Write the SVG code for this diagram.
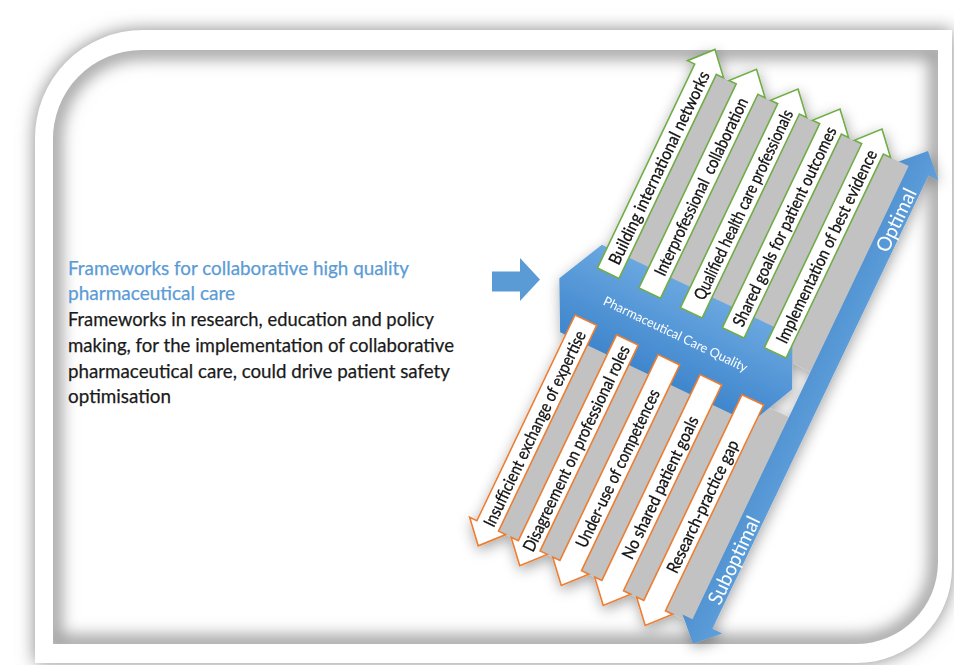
<svg xmlns="http://www.w3.org/2000/svg" width="954" height="665" viewBox="0 0 954 665">
<defs>
  <style>
    .up{fill:#ffffff;stroke:#70ad47;stroke-width:1.6}
    .dn{fill:#ffffff;stroke:#ed7d31;stroke-width:1.6}
    .bar{fill:#c2c2c2}
    .lbl{font-family:Lato,'Open Sans','Liberation Sans',sans-serif;font-size:17px;fill:#111111;stroke:#111111;stroke-width:0.3;text-anchor:middle;dominant-baseline:central}
    .axis{font-family:Lato,'Open Sans','Liberation Sans',sans-serif;font-size:20px;fill:#ffffff;text-anchor:middle;dominant-baseline:central}
    .band{font-family:Lato,'Open Sans','Liberation Sans',sans-serif;font-size:13px;fill:#ffffff;text-anchor:middle;dominant-baseline:central}
    .para{font-family:Lato,'Open Sans','Liberation Sans',sans-serif;font-size:20px;fill:#1a1a1a;stroke:#1a1a1a;stroke-width:0.25}
    .ttl{fill:#5b9bd5;stroke:#5b9bd5}
  </style>
  <filter id="blur9" x="-10%" y="-10%" width="120%" height="120%"><feGaussianBlur stdDeviation="9"/></filter>
  <filter id="blur8" x="-10%" y="-10%" width="120%" height="120%"><feGaussianBlur stdDeviation="8"/></filter>
  <filter id="dshadow" x="-20%" y="-20%" width="140%" height="140%"><feDropShadow dx="1" dy="4" stdDeviation="7" flood-color="#000000" flood-opacity="0.35"/></filter>
  <clipPath id="panelClip"><path d="M53,142 A89,89 0 0 1 142,50 H938 V562 A82,82 0 0 1 856,644 H53 Z"/></clipPath>
  <linearGradient id="bandGrad" x1="0" y1="0" x2="0" y2="1">
    <stop offset="0" stop-color="#6aa7e0"/>
    <stop offset="1" stop-color="#3f86cd"/>
  </linearGradient>
  <linearGradient id="axisGrad" x1="0" y1="0" x2="1" y2="0">
    <stop offset="0" stop-color="#4f90d0"/>
    <stop offset="1" stop-color="#5fa0db"/>
  </linearGradient>
</defs>

<rect x="0" y="0" width="954" height="665" fill="#ffffff"/>

<g id="frame">
  <path d="M35,140 A108,108 0 0 1 143,30 H952 V568 A95,95 0 0 1 857,663 H35 Z" fill="#888888" filter="url(#blur9)"/>
  <path d="M35,140 A108,108 0 0 1 143,30 H952 V568 A95,95 0 0 1 857,663 H35 Z" fill="#ffffff"/>
  <path d="M53,142 A89,89 0 0 1 142,50 H938 V562 A82,82 0 0 1 856,644 H53 Z" fill="#ffffff"/>
  <g clip-path="url(#panelClip)">
    <path d="M53,142 A89,89 0 0 1 142,50 H938 V562 A82,82 0 0 1 856,644 H53 Z" fill="none" stroke="#a0a0a0" stroke-width="18" filter="url(#blur8)"/>
  </g>
</g>

<g id="node-description">
  <text class="para ttl" x="68" y="274.5" textLength="341" lengthAdjust="spacingAndGlyphs">Frameworks for collaborative high quality</text>
  <text class="para ttl" x="68" y="300.3" textLength="167" lengthAdjust="spacingAndGlyphs">pharmaceutical care</text>
  <text class="para" x="68" y="326" textLength="366" lengthAdjust="spacingAndGlyphs">Frameworks in research, education and policy</text>
  <text class="para" x="68" y="351.8" textLength="386" lengthAdjust="spacingAndGlyphs">making, for the implementation of collaborative</text>
  <text class="para" x="68" y="377.6" textLength="382" lengthAdjust="spacingAndGlyphs">pharmaceutical care, could drive patient safety</text>
  <text class="para" x="68" y="403.4" textLength="103" lengthAdjust="spacingAndGlyphs">optimisation</text>
</g>

<g id="connectors">
  <path d="M492,271.5 H520 V258 L540,279.5 L520,301 V291.5 H492 Z" fill="#5b9bd5"/>
</g>

<g filter="url(#dshadow)">
<g id="diagram" transform="translate(928,151) rotate(25.5)">
  <g id="bars">
    <rect class="bar" x="-224" y="22" width="22" height="228"/>
    <rect class="bar" x="-178" y="22" width="22" height="228"/>
    <rect class="bar" x="-132" y="22" width="22.5" height="228"/>
    <rect class="bar" x="-85.5" y="22" width="22.5" height="228"/>
    <rect class="bar" x="-39" y="22" width="28" height="228"/>
    <rect class="bar" x="-224" y="300" width="22" height="228"/>
    <rect class="bar" x="-178" y="300" width="22" height="228"/>
    <rect class="bar" x="-132" y="300" width="22.5" height="228"/>
    <rect class="bar" x="-85.5" y="300" width="22.5" height="228"/>
    <rect class="bar" x="-39" y="300" width="28" height="228"/>
  </g>

  <g id="node-quality">
    <polygon points="-254,225 -43,225 -20,273.5 -43,322 -254,322 -278,273.5" fill="url(#bandGrad)"/>
    <text class="band" x="-149" y="273.5" textLength="158" lengthAdjust="spacingAndGlyphs">Pharmaceutical Care Quality</text>
  </g>

  <g id="node-building" transform="translate(-236,0)">
    <polygon class="up" points="0,0 20,22 12,22 12,248 -12,248 -12,22 -20,22"/>
    <text class="lbl" x="0" y="131" transform="rotate(-90 0 131)" textLength="212" lengthAdjust="spacingAndGlyphs">Building international networks</text>
  </g>
  <g id="node-interprofessional" transform="translate(-190,0)">
    <polygon class="up" points="0,0 20,22 12,22 12,248 -12,248 -12,22 -20,22"/>
    <text class="lbl" x="0" y="130" transform="rotate(-90 0 130)" textLength="195" lengthAdjust="spacingAndGlyphs" xml:space="preserve">Interprofessional  collaboration</text>
  </g>
  <g id="node-qualified" transform="translate(-144,0)">
    <polygon class="up" points="0,0 20,22 12,22 12,248 -12,248 -12,22 -20,22"/>
    <text class="lbl" x="0" y="128" transform="rotate(-90 0 128)" textLength="208" lengthAdjust="spacingAndGlyphs">Qualified health care professionals</text>
  </g>
  <g id="node-shared-goals" transform="translate(-97.5,0)">
    <polygon class="up" points="0,0 20,22 12,22 12,248 -12,248 -12,22 -20,22"/>
    <text class="lbl" x="0" y="130" transform="rotate(-90 0 130)" textLength="219" lengthAdjust="spacingAndGlyphs">Shared goals for patient outcomes</text>
  </g>
  <g id="node-implementation" transform="translate(-51,0)">
    <polygon class="up" points="0,0 20,22 12,22 12,248 -12,248 -12,22 -20,22"/>
    <text class="lbl" x="0" y="130" transform="rotate(-90 0 130)" textLength="212" lengthAdjust="spacingAndGlyphs">Implementation of best evidence</text>
  </g>

  <g id="node-insufficient" transform="translate(-236,0)">
    <polygon class="dn" points="-12,300 12,300 12,528 20,528 0,550 -20,528 -12,528"/>
    <text class="lbl" x="0" y="420" transform="rotate(-90 0 420)" textLength="215" lengthAdjust="spacingAndGlyphs">Insufficient exchange of expertise</text>
  </g>
  <g id="node-disagreement" transform="translate(-190,0)">
    <polygon class="dn" points="-12,300 12,300 12,528 20,528 0,550 -20,528 -12,528"/>
    <text class="lbl" x="0" y="420" transform="rotate(-90 0 420)" textLength="226" lengthAdjust="spacingAndGlyphs">Disagreement on professional roles</text>
  </g>
  <g id="node-underuse" transform="translate(-144,0)">
    <polygon class="dn" points="-12,300 12,300 12,528 20,528 0,550 -20,528 -12,528"/>
    <text class="lbl" x="0" y="420" transform="rotate(-90 0 420)" textLength="173" lengthAdjust="spacingAndGlyphs">Under-use of competences</text>
  </g>
  <g id="node-no-shared" transform="translate(-97.5,0)">
    <polygon class="dn" points="-12,300 12,300 12,528 20,528 0,550 -20,528 -12,528"/>
    <text class="lbl" x="0" y="419" transform="rotate(-90 0 419)" textLength="156" lengthAdjust="spacingAndGlyphs">No shared patient goals</text>
  </g>
  <g id="node-research-gap" transform="translate(-51,0)">
    <polygon class="dn" points="-12,300 12,300 12,528 20,528 0,550 -20,528 -12,528"/>
    <text class="lbl" x="0" y="418" transform="rotate(-90 0 418)" textLength="145" lengthAdjust="spacingAndGlyphs">Research-practice gap</text>
  </g>

  <g id="node-axis">
    <polygon points="0,0 22,22 11,22 11,524 22,524 0,546 -22,524 -11,524 -11,22 -22,22" fill="url(#axisGrad)"/>
    <text class="axis" x="0" y="76" transform="rotate(-90 0 76)" textLength="68" lengthAdjust="spacingAndGlyphs">Optimal</text>
    <text class="axis" x="0" y="453" transform="rotate(-90 0 453)" textLength="95" lengthAdjust="spacingAndGlyphs">Suboptimal</text>
  </g>
</g>
</g>
</svg>
